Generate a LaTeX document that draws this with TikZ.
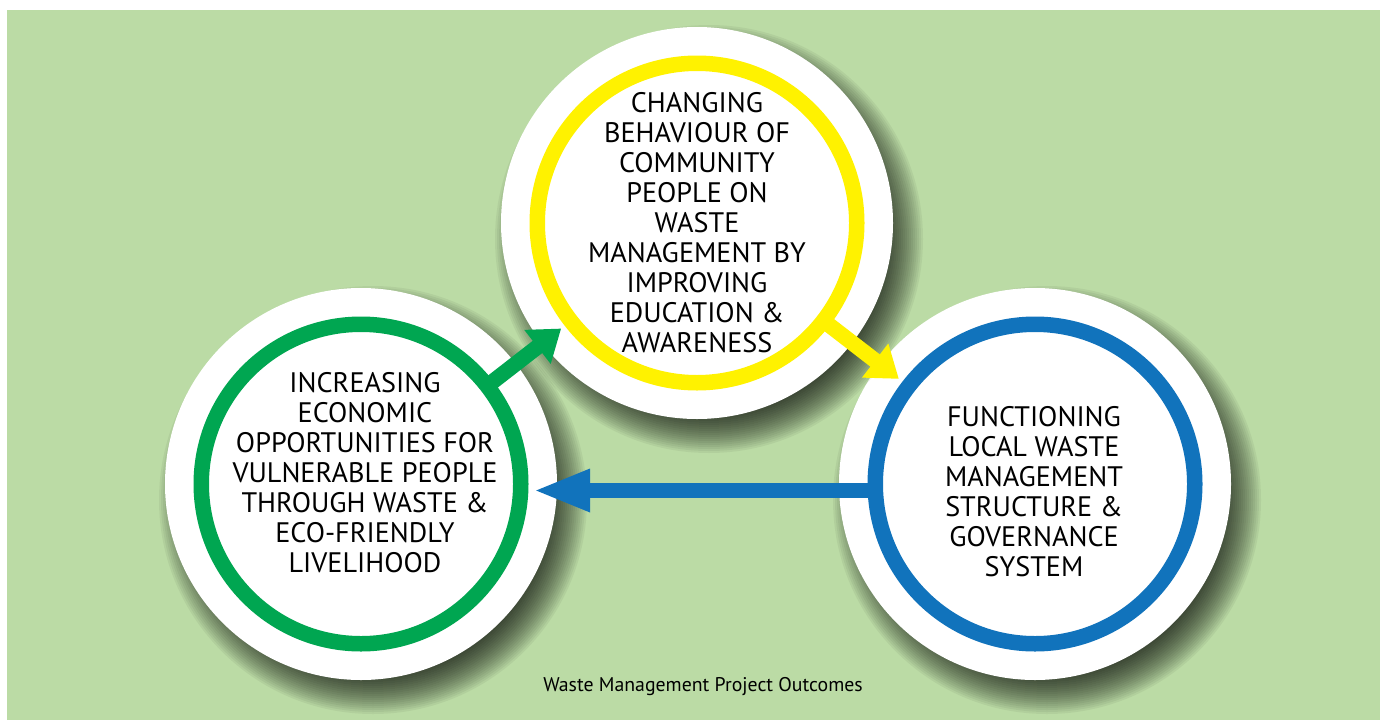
\documentclass[tikz,border=0pt]{standalone}
\usepackage{fontspec}
\setmainfont{PT Sans}
\usetikzlibrary{arrows.meta,calc}
\definecolor{bggreen}{RGB}{187,219,165}
\definecolor{ringgreen}{RGB}{0,166,81}
\definecolor{ringyellow}{RGB}{255,242,0}
\definecolor{ringblue}{RGB}{17,115,188}
\newcommand\dropshadow[1]{%
  \foreach \rr in {176,178,...,214}{\fill[black, fill opacity=0.05] ($(#1)+(12,16)$) circle[radius=\rr pt];}}
\begin{document}
\begin{tikzpicture}[x=1pt,y=-1pt,
  whitedisc/.style={circle, fill=white, minimum size=392pt, inner sep=0pt},
  ringnode/.style={circle, draw=#1, line width=15.5pt, minimum size=319.5pt, inner sep=0pt},
  circtext/.style={align=center, font=\fontsize{28.2}{30}\selectfont, inner sep=0pt, text=black},
  flowarrow/.style={draw=#1, line width=15.5pt, shorten <=160pt, shorten >=172pt},
]
\useasboundingbox (0,0) rectangle (1380,720);
\fill[white] (0,0) rectangle (1380,720);
\fill[bggreen] (7,10) rectangle (1380,720);

\coordinate (cL) at (361,484);
\coordinate (cT) at (697,223);
\coordinate (cR) at (1035,484);

\dropshadow{cL}
\node[whitedisc] (Lw) at (cL) {};
\dropshadow{cR}
\node[whitedisc] (Rw) at (cR) {};
\dropshadow{cT}
\node[whitedisc] (Tw) at (cT) {};

\node[ringnode=ringgreen] (L) at (cL) {};
\node[ringnode=ringyellow] (T) at (cT) {};
\node[ringnode=ringblue] (R) at (cR) {};

\node[circtext] (Ltxt) at (365,473) {INCREASING\\ECONOMIC\\OPPORTUNITIES FOR\\VULNERABLE PEOPLE\\THROUGH WASTE \&\\ECO-FRIENDLY\\LIVELIHOOD};
\node[circtext] (Ttxt) at (697,222.5) {CHANGING\\BEHAVIOUR OF\\COMMUNITY\\PEOPLE ON\\WASTE\\MANAGEMENT BY\\IMPROVING\\EDUCATION \&\\AWARENESS};
\node[circtext] (Rtxt) at (1034,492) {FUNCTIONING\\LOCAL WASTE\\MANAGEMENT\\STRUCTURE \&\\GOVERNANCE\\SYSTEM};

\draw[flowarrow=ringgreen, -{Triangle[length=30pt,width=41pt]}] (L.center) -- (T.center);
\draw[flowarrow=ringyellow, -{Triangle[length=30pt,width=41pt]}] (T.center) -- (R.center);
\draw[flowarrow=ringblue, -{Triangle[length=57pt,width=39pt]}] ([yshift=-6.5pt]R.center) -- ([yshift=-6.5pt]L.center);

\node[font=\fontsize{19.8}{22}\selectfont, anchor=base, inner sep=0pt] (cap) at (703,691) {Waste Management Project Outcomes};
\end{tikzpicture}
\end{document}
